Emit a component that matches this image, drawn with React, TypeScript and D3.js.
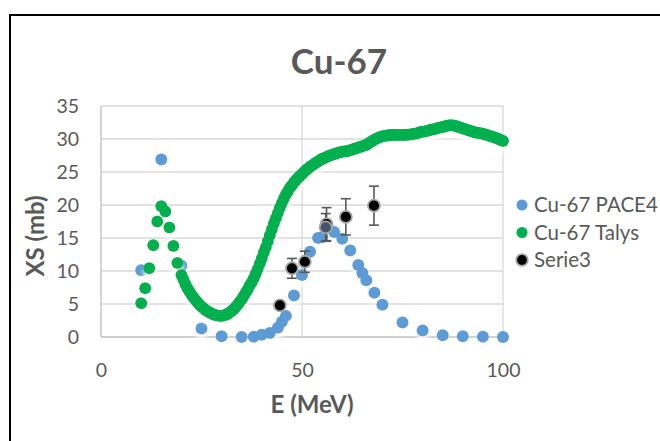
import React, { useEffect, useRef } from 'react';
import * as d3 from 'd3';

// PACE4 calculation [E (MeV), XS (mb)]
const pace4: [number, number][] = [
    [10, 10.1], [15, 26.9], [20, 10.8], [25, 1.3], [30, 0.1], [35, 0], [38, 0.05],
    [40, 0.35], [42, 0.6], [44, 1.4], [45, 2.3], [46, 3.2], [48, 6.3], [50, 9.4],
    [52, 12.9], [54, 15.0], [55, 15.1], [56, 16.5], [58, 15.9], [60, 14.9], [62, 13.1],
    [64, 10.9], [65, 9.7], [66, 8.6], [68, 6.7], [70, 4.9], [75, 2.2], [80, 1.0],
    [85, 0.25], [90, 0.1], [95, 0.05], [100, 0]
];

// Talys calculation [E (MeV), XS (mb)]
const talys: [number, number][] = [
    [10, 5.1], [11, 7.4], [12, 10.4], [13, 13.9], [14, 17.5], [15, 19.8], [16, 19.0],
    [17, 16.6], [18, 13.8], [19, 11.2],
    [20, 9.4], [20.5, 8.7], [21, 8.0], [21.5, 7.4], [22, 6.9], [22.5, 6.4], [23, 6.0],
    [23.5, 5.6], [24, 5.25], [24.5, 4.9], [25, 4.6], [25.5, 4.35], [26, 4.1], [26.5, 3.9],
    [27, 3.7], [27.5, 3.55], [28, 3.4], [28.5, 3.3], [29, 3.25], [29.5, 3.2], [30, 3.2],
    [30.5, 3.25], [31, 3.35], [31.5, 3.5], [32, 3.7], [32.5, 3.95], [33, 4.2], [33.5, 4.55],
    [34, 4.9], [34.5, 5.3], [35, 5.7], [35.5, 6.2], [36, 6.7], [36.5, 7.2], [37, 7.8],
    [37.5, 8.3], [38, 8.9], [38.5, 9.6], [39, 10.3], [39.5, 11.1], [40, 11.9], [40.5, 12.8],
    [41, 13.6], [41.5, 14.5], [42, 15.4], [42.5, 16.3], [43, 17.2], [43.5, 18.0], [44, 18.8],
    [44.5, 19.6], [45, 20.3], [45.5, 21.0], [46, 21.6], [46.5, 22.1], [47, 22.6], [47.5, 23.0],
    [48, 23.4], [48.5, 23.8], [49, 24.1], [49.5, 24.4], [50, 24.7], [50.5, 25.0], [51, 25.3],
    [51.5, 25.5], [52, 25.8], [52.5, 26.0], [53, 26.2], [53.5, 26.4], [54, 26.6], [54.5, 26.8],
    [55, 27.0], [55.5, 27.1], [56, 27.25], [56.5, 27.4], [57, 27.5], [57.5, 27.6], [58, 27.7],
    [58.5, 27.8], [59, 27.9], [59.5, 28.0], [60, 28.05], [60.5, 28.1], [61, 28.15], [61.5, 28.2],
    [62, 28.3], [62.5, 28.4], [63, 28.5], [63.5, 28.6], [64, 28.7], [64.5, 28.8], [65, 28.9],
    [65.5, 29.0], [66, 29.1], [66.5, 29.3], [67, 29.5], [67.5, 29.7], [68, 29.9], [68.5, 30.05],
    [69, 30.2], [69.5, 30.3], [70, 30.4], [70.5, 30.45], [71, 30.5], [71.5, 30.55], [72, 30.6],
    [72.5, 30.6], [73, 30.6], [73.5, 30.6], [74, 30.6], [74.5, 30.6], [75, 30.6], [75.5, 30.6],
    [76, 30.65], [76.5, 30.65], [77, 30.7], [77.5, 30.75], [78, 30.8], [78.5, 30.85], [79, 30.95],
    [79.5, 31.05], [80, 31.1], [80.5, 31.15], [81, 31.2], [81.5, 31.3], [82, 31.4], [82.5, 31.45],
    [83, 31.5], [83.5, 31.6], [84, 31.7], [84.5, 31.75], [85, 31.8], [85.5, 31.9], [86, 32.0],
    [86.5, 32.05], [87, 32.1], [87.5, 32.05], [88, 32.0], [88.5, 31.9], [89, 31.8], [89.5, 31.7],
    [90, 31.6], [90.5, 31.5], [91, 31.4], [91.5, 31.3], [92, 31.2], [92.5, 31.1], [93, 31.0],
    [93.5, 30.95], [94, 30.9], [94.5, 30.85], [95, 30.8], [95.5, 30.7], [96, 30.6], [96.5, 30.5],
    [97, 30.4], [97.5, 30.3], [98, 30.2], [98.5, 30.1], [99, 29.95], [99.5, 29.8], [100, 29.7]
];

// measured points [E (MeV), XS (mb), error (mb)]
const serie3: [number, number, number][] = [
    [44.5, 4.8, 0.3], [47.5, 10.4, 1.5], [50.7, 11.4, 1.6], [56.1, 17.1, 2.5],
    [55.9, 16.6, 2.1], [60.9, 18.2, 2.75], [67.9, 19.9, 2.95]
];

const seriesNames = ['Cu-67 PACE4', 'Cu-67 Talys', 'Serie3'];
const xTicks = [0, 50, 100];
const yTicks = [0, 5, 10, 15, 20, 25, 30, 35];
const xGrid = [50, 100];

const BLUE = '#5B9BD5';
const GREEN = '#00B050';
const TEXT = '#595959';
const FONT = 'Lato, "Open Sans", sans-serif';

export default function App() {
    const ref = useRef<SVGSVGElement>(null);

    useEffect(() => {
        const svg = d3.select(ref.current);
        svg.selectAll('*').remove();

        const x = d3.scaleLinear().domain([0, 100]).range([101, 503]);
        const y = d3.scaleLinear().domain([0, 35]).range([337, 106]);

        // white soft shadow under the series
        const defs = svg.append('defs');
        defs.append('filter')
            .attr('id', 'glow')
            .attr('x', '-20%').attr('y', '-20%')
            .attr('width', '140%').attr('height', '160%')
            .append('feDropShadow')
            .attr('dx', 0).attr('dy', 5)
            .attr('stdDeviation', 2.5)
            .attr('flood-color', '#ffffff')
            .attr('flood-opacity', 0.9);

        // frame
        svg.append('path')
            .attr('d', 'M10,445 V15 H665')
            .attr('fill', 'none')
            .attr('stroke', '#000')
            .attr('stroke-width', 2);

        // title
        svg.append('text')
            .attr('x', 339).attr('y', 74)
            .attr('text-anchor', 'middle')
            .attr('font-family', FONT)
            .attr('font-weight', 'bold')
            .attr('font-size', 35)
            .attr('fill', TEXT)
            .text('Cu-67');

        // grid
        svg.append('g').selectAll('line.h')
            .data(yTicks)
            .enter().append('line')
            .attr('x1', x(0)).attr('x2', x(100))
            .attr('y1', d => y(d)).attr('y2', d => y(d))
            .attr('stroke', d => d === 0 ? '#BFBFBF' : '#D9D9D9')
            .attr('stroke-width', 1.3);
        svg.append('g').selectAll('line.v')
            .data([0, ...xGrid])
            .enter().append('line')
            .attr('y1', y(0)).attr('y2', y(35))
            .attr('x1', d => x(d)).attr('x2', d => x(d))
            .attr('stroke', d => d === 0 ? '#BFBFBF' : '#D9D9D9')
            .attr('stroke-width', 1.3);

        // axes (labels only)
        const yAxis = svg.append('g')
            .attr('transform', 'translate(' + x(0) + ',0)')
            .call(d3.axisLeft(y).tickValues(yTicks).tickSize(0).tickPadding(22));
        const xAxis = svg.append('g')
            .attr('transform', 'translate(0,' + y(0) + ')')
            .call(d3.axisBottom(x).tickValues(xTicks).tickSize(0).tickPadding(26));
        [yAxis, xAxis].forEach(g => {
            g.select('.domain').remove();
            g.attr('font-family', FONT).attr('font-size', 19.5);
            g.selectAll('text').attr('fill', TEXT);
        });

        // axis titles
        svg.append('text')
            .attr('transform', 'translate(44,236) rotate(-90)')
            .attr('text-anchor', 'middle')
            .attr('font-family', FONT)
            .attr('font-weight', 'bold')
            .attr('font-size', 24)
            .attr('fill', TEXT)
            .text('XS (mb)');
        svg.append('text')
            .attr('x', 312).attr('y', 413)
            .attr('text-anchor', 'middle')
            .attr('font-family', FONT)
            .attr('font-weight', 'bold')
            .attr('font-size', 24)
            .attr('fill', TEXT)
            .text('E (MeV)');

        // PACE4
        svg.append('g').attr('filter', 'url(#glow)')
            .selectAll('circle')
            .data(pace4)
            .enter().append('circle')
            .attr('cx', d => x(d[0]))
            .attr('cy', d => y(d[1]))
            .attr('r', 6)
            .attr('fill', BLUE);

        // Talys
        svg.append('g').attr('filter', 'url(#glow)')
            .selectAll('circle')
            .data(talys)
            .enter().append('circle')
            .attr('cx', d => x(d[0]))
            .attr('cy', d => y(d[1]))
            .attr('r', 6)
            .attr('fill', GREEN);

        // Serie3 with error bars
        const s3 = svg.append('g');
        const eb = s3.selectAll('g.err')
            .data(serie3)
            .enter().append('g')
            .attr('stroke', '#595959')
            .attr('stroke-width', 1.6);
        eb.append('line')
            .attr('x1', d => x(d[0])).attr('x2', d => x(d[0]))
            .attr('y1', d => y(d[1] - d[2])).attr('y2', d => y(d[1] + d[2]));
        eb.append('line')
            .attr('x1', d => x(d[0]) - 5).attr('x2', d => x(d[0]) + 5)
            .attr('y1', d => y(d[1] + d[2])).attr('y2', d => y(d[1] + d[2]));
        eb.append('line')
            .attr('x1', d => x(d[0]) - 5).attr('x2', d => x(d[0]) + 5)
            .attr('y1', d => y(d[1] - d[2])).attr('y2', d => y(d[1] - d[2]));
        s3.selectAll('circle')
            .data(serie3)
            .enter().append('circle')
            .attr('cx', d => x(d[0]))
            .attr('cy', d => y(d[1]))
            .attr('r', 6)
            .attr('fill', (d, i) => i === 4 ? '#44546A' : '#000')
            .attr('stroke', '#A6A6A6')
            .attr('stroke-width', 1.8);

        // legend
        const colors = [BLUE, GREEN, '#000'];
        const legend = svg.append('g')
            .selectAll('g')
            .data(seriesNames)
            .enter().append('g')
            .attr('transform', (d, i) => 'translate(522,' + (205 + i * 27.5) + ')');
        legend.append('circle')
            .attr('r', (d, i) => i === 2 ? 5.8 : 5.5)
            .attr('fill', (d, i) => colors[i])
            .attr('stroke', (d, i) => i === 2 ? '#A6A6A6' : 'none')
            .attr('stroke-width', 1.8);
        legend.append('text')
            .attr('x', 12)
            .attr('y', 7)
            .attr('font-family', FONT)
            .attr('font-size', 20.5)
            .attr('fill', TEXT)
            .text(d => d);
    }, []);

    return (
        <svg ref={ref}
             width={660}
             height={441}
             style={{ position: 'absolute', left: 0, top: 0, background: '#fff' }} />
    );
}
